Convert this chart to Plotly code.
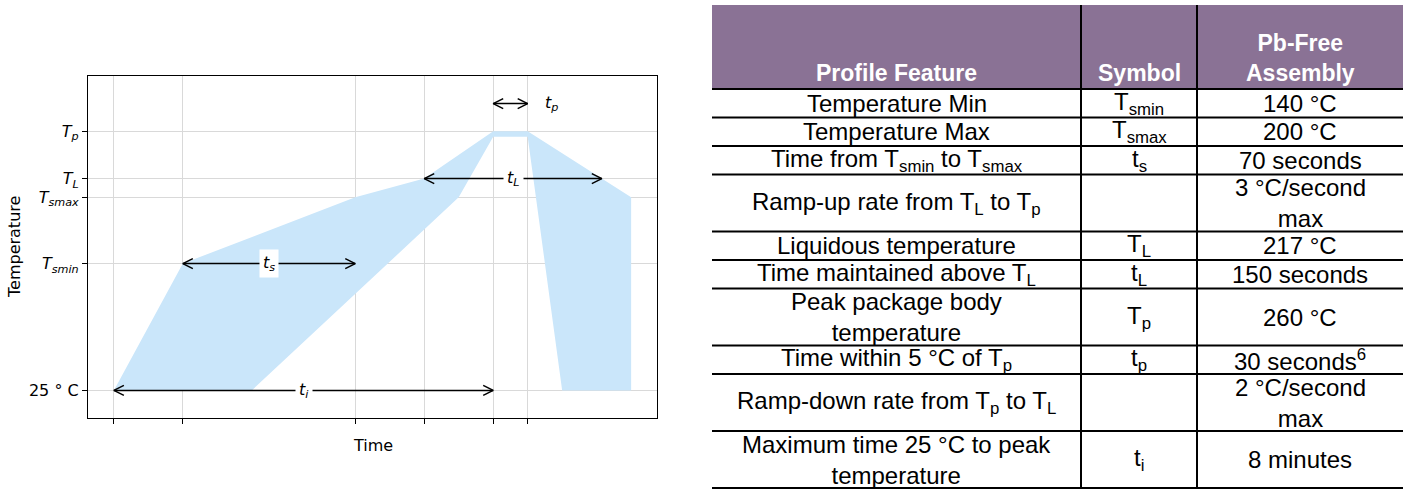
import plotly.graph_objects as go

W, H = 1410, 489

# ---------------- chart data ----------------
time_ticks = [0, 2, 7, 9, 11, 12]
temp_ticks = [25, 140, 200, 217, 260]
temp_ticklabels = ["25 ° C", "<i>T<sub>smin</sub></i>", "<i>T<sub>smax</sub></i>",
                   "<i>T<sub>L</sub></i>", "<i>T<sub>p</sub></i>"]

# reflow window polygon (time units, °C)
window_time = [0, 2, 7, 9, 11, 12, 15, 15, 13, 12, 11, 10, 4, 0]
window_temp = [25, 140, 200, 217, 260, 260, 200, 25, 25, 255, 255, 200, 25, 25]

T_amb, T_smin, T_smax, T_L, T_p = 25, 140, 200, 217, 260
t_smin, t_smax, t_L0, t_p0, t_p1 = 2, 7, 9, 11, 12
t_cool_top, t_cool_end, T_cool_end = 12, 15, 200
tp_arrow_temp = 285
# time where the outer cooling edge crosses T_L
t_L1 = t_cool_top + (T_p - T_L) / (T_p - T_cool_end) * (t_cool_end - t_cool_top)

arrow_x0 = [t_smin, t_L0, 0, t_p0]
arrow_x1 = [t_smax, t_L1, t_p0, t_p1]
arrow_y = [T_smin, T_L, T_amb, tp_arrow_temp]
arrow_labels = ["<i>t<sub>s</sub></i>", "<i>t<sub>L</sub></i>", "<i>t<sub>i</sub></i>", "<i>t<sub>p</sub></i>"]

x_range = [-0.75, 15.75]
y_range = [0, 310]

# ---------------- table data ----------------
col_headers = ["<b>Profile Feature</b>", "<b>Symbol</b>", "<b>Pb-Free<br>Assembly</b>"]
features = ["Temperature Min", "Temperature Max",
            "Time from T<sub>smin</sub> to T<sub>smax</sub>",
            "Ramp-up rate from T<sub>L</sub> to T<sub>p</sub>",
            "Liquidous temperature", "Time maintained above T<sub>L</sub>",
            "Peak package body<br>temperature", "Time within 5 °C of T<sub>p</sub>",
            "Ramp-down rate from T<sub>p</sub> to T<sub>L</sub>",
            "Maximum time 25 °C to peak<br>temperature"]
symbols = ["T<sub>smin</sub>", "T<sub>smax</sub>", "t<sub>s</sub>", "", "T<sub>L</sub>",
           "t<sub>L</sub>", "T<sub>p</sub>", "t<sub>p</sub>", "", "t<sub>i</sub>"]
values = ["140 °C", "200 °C", "70 seconds", "3 °C/second<br>max", "217 °C", "150 seconds",
          "260 °C", "30 seconds<sup>6</sup>", "2 °C/second<br>max", "8 minutes"]
row_units = [1, 1, 1, 2, 1, 1, 2, 1, 2, 2]

# ---------------- layout geometry (pixels) ----------------
PL, PR, PT, PB = 88, 657, 76, 418
TBL_L, TBL_R, TBL_T, HDR_B, TBL_B = 712, 1403, 5, 89, 488
COL_SPLIT = [1081, 1197]


def px(x):
    return x / W


def py(y):
    return 1 - y / H


fig = go.Figure()

fig.add_trace(go.Scatter(x=window_time, y=window_temp, fill="toself",
                         fillcolor="#cae6fa", mode="lines", line=dict(width=0),
                         hoverinfo="skip", showlegend=False))

# arrows
ppx = (PR - PL) / (x_range[1] - x_range[0])
ppy = (PB - PT) / (y_range[1] - y_range[0])
hx, hy = 10 / ppx, 5 / ppy
lx, ly = [], []
for x0, x1, y in zip(arrow_x0, arrow_x1, arrow_y):
    lx += [x0, x1, None, x0 + hx, x0, x0 + hx, None, x1 - hx, x1, x1 - hx, None]
    ly += [y, y, None, y + hy, y, y - hy, None, y + hy, y, y - hy, None]
fig.add_trace(go.Scatter(x=lx, y=ly, mode="lines", line=dict(color="black", width=1.5),
                         hoverinfo="skip", showlegend=False))

pfont = dict(size=16, color="black", family="DejaVu Sans")
annotations = []
for i, (x0, x1, y, lab) in enumerate(zip(arrow_x0, arrow_x1, arrow_y, arrow_labels)):
    if i == 3:
        annotations.append(dict(x=x1 + 0.7, y=y, xref="x", yref="y", text=lab, showarrow=False,
                                xanchor="center", yanchor="middle", font=pfont))
    else:
        annotations.append(dict(x=(x0 + x1) / 2, y=y, xref="x", yref="y", text=lab,
                                showarrow=False, bgcolor="white", borderpad=3,
                                xanchor="center", yanchor="middle", font=pfont))

# axis titles
annotations.append(dict(x=px((PL + PR) / 2), y=py(445), xref="paper", yref="paper",
                        text="Time", showarrow=False, xanchor="center", yanchor="middle",
                        font=pfont))
annotations.append(dict(x=px(14), y=py((PT + PB) / 2), xref="paper", yref="paper",
                        text="Temperature", showarrow=False, textangle=-90,
                        xanchor="center", yanchor="middle", font=pfont))

# ---------------- table ----------------
shapes = [dict(type="rect", xref="paper", yref="paper", x0=px(TBL_L), x1=px(TBL_R),
               y0=py(TBL_T), y1=py(HDR_B), fillcolor="#8a7295", line=dict(width=0), layer="below")]
unit = (TBL_B - HDR_B) / sum(row_units)
bounds = [HDR_B]
for u in row_units:
    bounds.append(bounds[-1] + u * unit)
for b in bounds:
    shapes.append(dict(type="line", xref="paper", yref="paper", x0=px(TBL_L), x1=px(TBL_R),
                       y0=py(b), y1=py(b), line=dict(color="black", width=2)))
for c in COL_SPLIT:
    shapes.append(dict(type="line", xref="paper", yref="paper", x0=px(c), x1=px(c),
                       y0=py(TBL_T), y1=py(TBL_B), line=dict(color="black", width=2)))

col_centers = [(TBL_L + COL_SPLIT[0]) / 2, (COL_SPLIT[0] + COL_SPLIT[1]) / 2,
               (COL_SPLIT[1] + TBL_R) / 2]
tfont = dict(family="Liberation Sans, Arial", size=24, color="black")
hfont = dict(family="Liberation Sans, Arial", size=23, color="white")
for cx, h in zip(col_centers, col_headers):
    annotations.append(dict(x=px(cx), y=py(HDR_B - 1), xref="paper", yref="paper", text=h,
                            showarrow=False, xanchor="center", yanchor="bottom",
                            font=hfont, align="center"))
for i in range(len(features)):
    cy = (bounds[i] + bounds[i + 1]) / 2
    for cx, txt in zip(col_centers, [features[i], symbols[i], values[i]]):
        if txt:
            annotations.append(dict(x=px(cx), y=py(cy), xref="paper", yref="paper", text=txt,
                                    showarrow=False, xanchor="center", yanchor="middle",
                                    font=tfont, align="center"))

fig.update_layout(
    width=W, height=H, margin=dict(l=0, r=0, t=0, b=0),
    paper_bgcolor="white", plot_bgcolor="white",
    font=dict(family="DejaVu Sans", size=16, color="black"),
    xaxis=dict(domain=[px(PL), px(PR)], range=x_range, tickvals=time_ticks, ticktext=[""] * len(time_ticks),
               showgrid=True, gridcolor="#d9d9d9", gridwidth=1, zeroline=False,
               showline=True, mirror=True, linecolor="black", linewidth=1.3,
               ticks="outside", ticklen=5, tickcolor="black", tickwidth=1.3, automargin=False),
    yaxis=dict(domain=[py(PB), py(PT)], range=y_range, tickvals=temp_ticks, ticktext=temp_ticklabels,
               showgrid=True, gridcolor="#d9d9d9", gridwidth=1, zeroline=False,
               showline=True, mirror=True, linecolor="black", linewidth=1.3,
               ticks="outside", ticklen=5, tickcolor="black", tickwidth=1.3,
               tickfont=dict(size=16, family="DejaVu Sans"), automargin=False),
    shapes=shapes, annotations=annotations, showlegend=False,
)

fig.write_html("out.html", config={"displayModeBar": False},
               post_script="document.body.style.margin='0';")
